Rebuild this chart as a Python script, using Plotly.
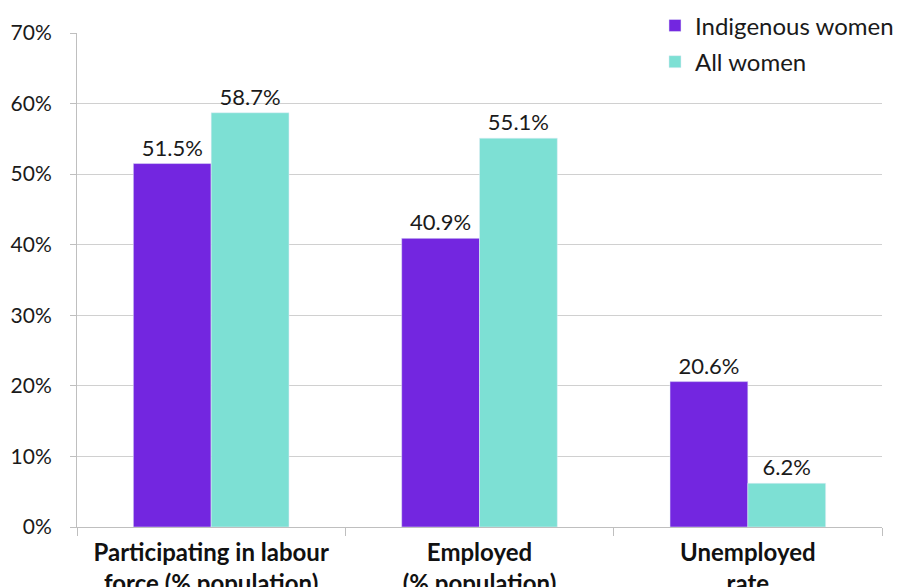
import plotly.graph_objects as go

# data
categories = ['<b>Participating in labour</b><br><b>force (% population)</b>',
              '<b>Employed</b><br><b>(% population)</b>',
              '<b>Unemployed</b><br><b>rate</b>']
indigenous = [51.5, 40.9, 20.6]
all_women = [58.7, 55.1, 6.2]

font_family = 'Lato, "Open Sans", sans-serif'

fig = go.Figure()
fig.add_trace(go.Bar(
    x = categories, y = indigenous, name = 'Indigenous women',
    marker_color = '#7326e0', legendgroup = 'a',
    text = [f'{v:.1f}%' for v in indigenous], textposition = 'outside',
    textfont = dict(size = 22, color = '#1a1a1a'), cliponaxis = False
))
fig.add_trace(go.Bar(
    x = categories, y = all_women, name = 'All women',
    marker_color = '#7de0d4', legendgroup = 'b',
    text = [f'{v:.1f}%' for v in all_women], textposition = 'outside',
    textfont = dict(size = 22, color = '#1a1a1a'), cliponaxis = False
))

# page body adds an 8px offset, so margins are shifted to compensate
fig.update_layout(
    width = 903, height = 587,
    margin = dict(l = 69, r = 29, t = 25, b = 68, autoexpand = False),
    plot_bgcolor = 'white', paper_bgcolor = 'white',
    font = dict(family = font_family, size = 21, color = '#1a1a1a'),
    barmode = 'group', bargap = 0.42, bargroupgap = 0,
    legend = dict(x = 0.718, xanchor = 'left', y = 1.06, yanchor = 'top',
                  font = dict(size = 24), bgcolor = 'rgba(0,0,0,0)',
                  itemwidth = 30, tracegroupgap = 2, traceorder = 'grouped'),
    showlegend = True
)
fig.update_xaxes(
    automargin = False,
    showline = True, linecolor = '#bfbfbf', linewidth = 1,
    ticks = 'outside', tickson = 'boundaries', ticklen = 8, tickcolor = '#bfbfbf',
    ticklabelstandoff = 4,
    tickfont = dict(size = 24, color = '#111111')
)
fig.update_yaxes(
    automargin = False,
    range = [0, 70], dtick = 10, ticksuffix = '%',
    showline = True, linecolor = '#bfbfbf', linewidth = 1,
    ticks = 'outside', ticklen = 6, tickcolor = '#bfbfbf',
    ticklabelstandoff = 14,
    gridcolor = '#d0d0d0', gridwidth = 1, zeroline = False,
    tickfont = dict(size = 21, color = '#1a1a1a')
)

fig.write_html("out.html")
